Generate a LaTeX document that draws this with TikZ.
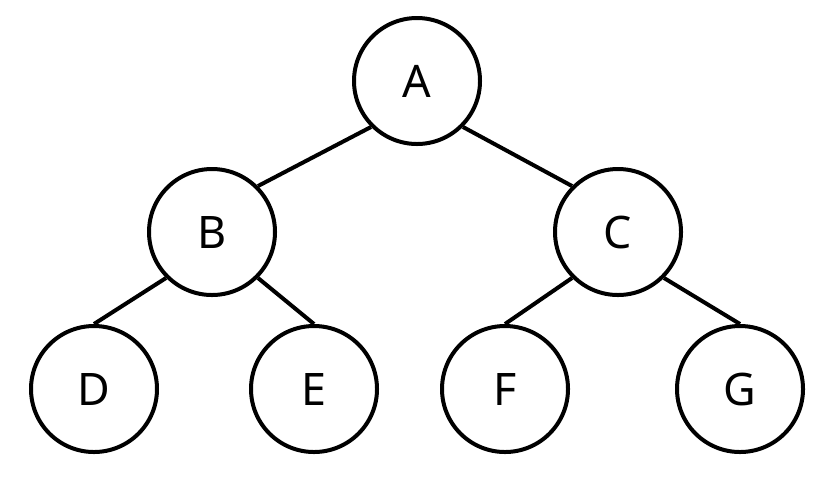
\documentclass[tikz,border=0pt]{standalone}
\usepackage{fontspec}
\setmainfont{Noto Sans}
\usepackage{tikz}
\usetikzlibrary{positioning}

\begin{document}
\begin{tikzpicture}[
    x=0.5pt, y=-0.5pt,
    vertex/.style={draw, circle, line width=2pt, minimum size=63pt, inner sep=0pt, font=\fontsize{22.4}{26}\selectfont},
    edge/.style={line width=2pt}
]
\useasboundingbox (0,0) rectangle (817,478);

% Root and inner nodes
\node[vertex] (a) at (417,81) {A};
\node[vertex] (b) at (212,232) {B};
\node[vertex] (c) at (618,232) {C};

% Leaves
\node[vertex] (d) at (94,389) {D};
\node[vertex] (e) at (314,389) {E};
\node[vertex] (f) at (505,389) {F};
\node[vertex] (g) at (740,389) {G};

\draw[edge] (a.south west) -- (b.north east);
\draw[edge] (a.south east) -- (c.north west);
\draw[edge] (b.south west) -- (d.north);
\draw[edge] (b.south east) -- (e.north);
\draw[edge] (c.south west) -- (f.north);
\draw[edge] (c.south east) -- (g.north);
\end{tikzpicture}
\end{document}
